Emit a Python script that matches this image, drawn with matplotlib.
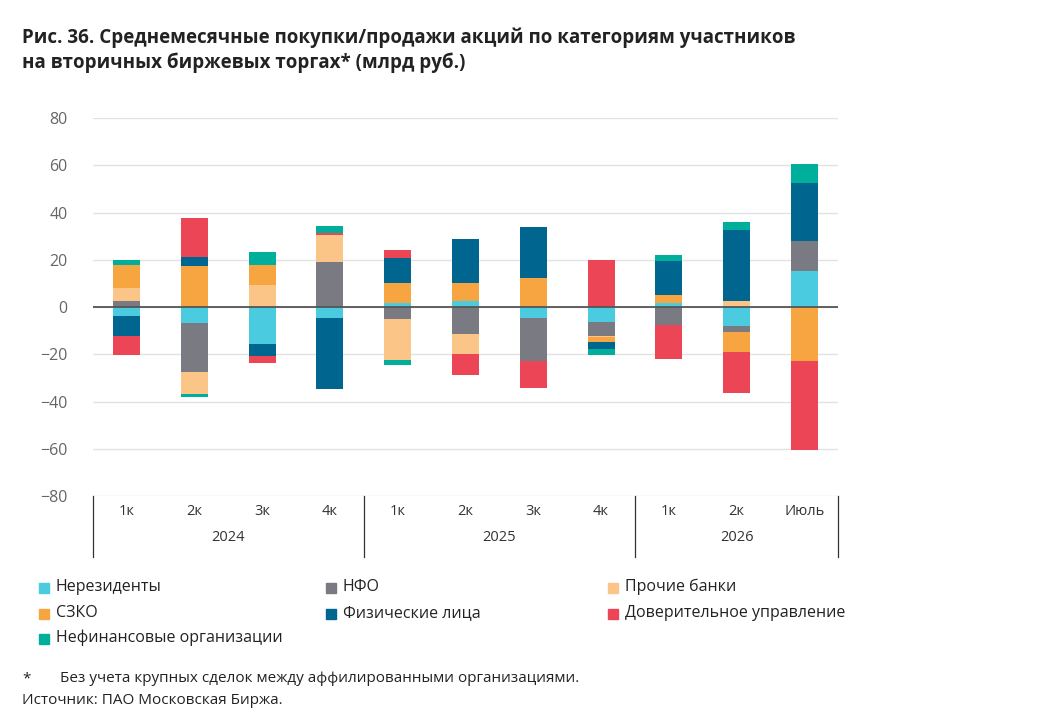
import matplotlib
matplotlib.use("Agg")
import matplotlib.pyplot as plt
import numpy as np

plt.rcParams['font.family'] = ['Open Sans', 'DejaVu Sans']

categories = ["1к", "2к", "3к", "4к", "1к", "2к", "3к", "4к", "1к", "2к", "Июль"]
years = ["2024", "2025", "2026"]
year_groups = [(0, 3), (4, 7), (8, 10)]

series_names = ["Нерезиденты", "НФО", "Прочие банки", "СЗКО", "Физические лица",
                "Доверительное управление", "Нефинансовые организации"]
nerez   = [-3.9, -6.9, -15.4, -4.5, 1.7, 2.5, -4.4, -6.1, 1.7, -8.0, 15.1]
nfo     = [2.4, -20.4, 0, 19.0, -5.2, -11.5, -18.3, -6.1, -7.7, -2.7, 13.1]
prochie = [5.9, -9.6, 9.4, 11.4, -17.2, -8.3, 0, -0.5, 0, 2.4, 0]
szko    = [9.7, 17.6, 8.5, 0, 8.6, 7.7, 12.5, -2.2, 3.5, -8.2, -22.8]
phys    = [-8.2, 3.5, -5.1, -30.0, 10.6, 18.5, 21.4, -2.7, 14.2, 30.4, 24.2]
du      = [-8.2, 16.5, -3.0, 1.0, 3.4, -8.7, -11.4, 20.1, -14.1, -17.3, -37.7]
nonfin  = [2.0, -1.0, 5.6, 3.1, -2.0, 0.3, 0, -2.7, 2.5, 3.4, 8.3]
colors = ["#4ACBDF", "#7A7A82", "#FAC587", "#F7A541", "#00668F", "#EC4555", "#00AE9C"]
series = [nerez, nfo, prochie, szko, phys, du, nonfin]

fig = plt.figure(figsize=(10.52, 7.16), dpi=100)
ax = fig.add_axes([0.088, 0.307, 0.709, 0.528])
x = np.arange(len(categories))
pos = np.zeros(len(x)); neg = np.zeros(len(x))
for name, vals, c in zip(series_names, series, colors):
    v = np.array(vals, float)
    bottoms = np.where(v >= 0, pos, neg)
    ax.bar(x, v, 0.4, bottom=bottoms, color=c, label=name, zorder=3)
    pos += np.where(v >= 0, v, 0); neg += np.where(v < 0, v, 0)

ax.set_ylim(-80, 80)
ax.set_xlim(-0.5, len(x) - 0.5)
ax.set_yticks(range(-80, 81, 20))
ax.yaxis.grid(True, color="#E3E3E3", lw=1, zorder=0)
ax.axhline(0, color="#555555", lw=1.3, zorder=4)
for s in ax.spines.values():
    s.set_visible(False)
ax.tick_params(axis='y', length=0, labelsize=11.5, labelcolor="#666666", pad=18)
ax.set_xticks([])
trans = ax.get_xaxis_transform()
for i, c in enumerate(categories):
    ax.text(i, -0.04, c, transform=trans, ha='center', va='center', fontsize=10.5, color="#333333")
for y, (a, b) in zip(years, year_groups):
    ax.text((a + b) / 2, -0.11, y, transform=trans, ha='center', va='center', fontsize=10.5, color="#333333")
for xb in [-0.5, 3.5, 7.5, 10.5]:
    ax.plot([xb, xb], [0, -0.16], transform=trans, color="#333333", lw=0.9, clip_on=False)

fig.text(0.021, 0.962, "Рис. 36. Среднемесячные покупки/продажи акций по категориям участников\nна вторичных биржевых торгах* (млрд руб.)",
         ha='left', va='top', fontsize=13.5, fontweight='bold', color="#222222", linespacing=1.3)

handles, labels = ax.get_legend_handles_labels()
order_pos = [(0.037, 0.180), (0.310, 0.180), (0.578, 0.180),
             (0.037, 0.144), (0.310, 0.144), (0.578, 0.144),
             (0.037, 0.109)]
for (px, py), name, c in zip(order_pos, series_names, colors):
    fig.patches.append(plt.Rectangle((px, py - 0.008), 0.0095, 0.014, color=c, transform=fig.transFigure))
    fig.text(px + 0.016, py, name, ha='left', va='center', fontsize=11.5, color="#222222")

fig.text(0.021, 0.052, "*", fontsize=11, color="#222222", va='center')
fig.text(0.057, 0.052, "Без учета крупных сделок между аффилированными организациями.", fontsize=11, color="#222222", va='center')
fig.text(0.021, 0.021, "Источник: ПАО Московская Биржа.", fontsize=11, color="#222222", va='center')

fig.savefig("out.png", dpi=100)
